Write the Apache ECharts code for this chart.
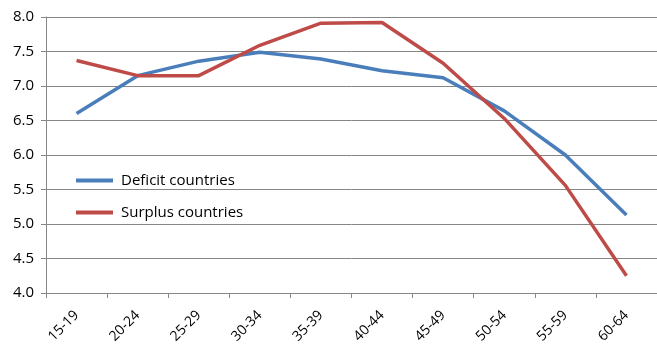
<!DOCTYPE html>
<html>
<head>
<meta charset="utf-8">
<script src="https://cdn.jsdelivr.net/npm/echarts@6/dist/echarts.min.js"></script>
<style>
  html, body { margin: 0; padding: 0; background: #fff; }
  #chart { width: 657px; height: 352px; }
</style>
</head>
<body>
<div id="chart"></div>
<script>
// age groups on the x axis
var ageGroups = ['15-19', '20-24', '25-29', '30-34', '35-39', '40-44', '45-49', '50-54', '55-59', '60-64'];
// values
var deficit = [6.6, 7.15, 7.36, 7.49, 7.39, 7.22, 7.12, 6.64, 6.0, 5.13];
var surplus = [7.37, 7.15, 7.15, 7.59, 7.91, 7.92, 7.33, 6.53, 5.56, 4.25];

var font = 'Open Sans';
var dom = document.getElementById('chart');
var myChart = echarts.init(dom);

var option = {
    animation: false,
    grid: {
        left: 46,
        right: -4,
        top: 17,
        bottom: 59,
        containLabel: false
    },
    legend: {
        orient: 'vertical',
        left: 71,
        top: 168,
        icon: 'rect',
        itemWidth: 37,
        itemHeight: 4,
        itemGap: 17,
        textStyle: { fontFamily: font, fontSize: 15, color: '#000', padding: [0, 0, 0, 3] },
        data: ['Deficit countries', 'Surplus countries']
    },
    xAxis: {
        type: 'category',
        data: ageGroups,
        boundaryGap: true,
        axisLine: { lineStyle: { color: '#868686' } },
        axisTick: { show: true, length: 5, lineStyle: { color: '#868686' } },
        axisLabel: {
            rotate: 45,
            margin: 20,
            fontFamily: font,
            fontSize: 14,
            color: '#000'
        }
    },
    yAxis: {
        type: 'value',
        min: 4,
        max: 8,
        interval: 0.5,
        axisLine: { show: true, lineStyle: { color: '#868686' } },
        axisTick: { show: true, length: 5, lineStyle: { color: '#868686' } },
        splitLine: { lineStyle: { color: '#868686', width: 1 } },
        axisLabel: {
            margin: 12,
            fontFamily: font,
            fontSize: 15,
            color: '#000',
            formatter: function (v) { return v.toFixed(1); }
        }
    },
    series: [
        {
            name: 'Deficit countries',
            type: 'line',
            data: deficit,
            symbol: 'none',
            lineStyle: { color: '#4a7ebb', width: 3.5 },
            itemStyle: { color: '#4a7ebb' }
        },
        {
            name: 'Surplus countries',
            type: 'line',
            data: surplus,
            symbol: 'none',
            lineStyle: { color: '#be4b48', width: 3.5 },
            itemStyle: { color: '#be4b48' }
        }
    ]
};

myChart.setOption(option, true);
</script>
</body>
</html>
